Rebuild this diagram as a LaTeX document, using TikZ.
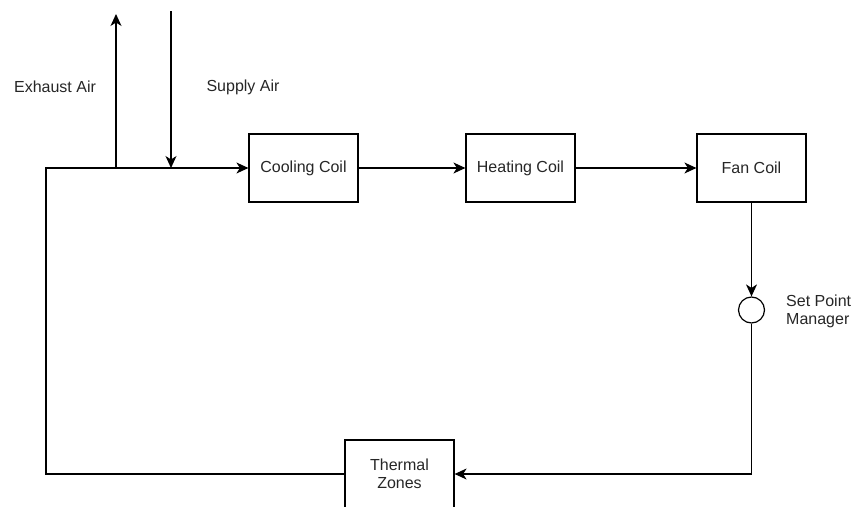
\documentclass[tikz,border=0pt]{standalone}
\usepackage{fontspec}
\setmainfont{Liberation Sans}
\usetikzlibrary{arrows.meta}
\begin{document}
\begin{tikzpicture}[x=1pt,y=-1pt,
  box/.style={draw=black,line width=1.2pt,minimum width=109pt,minimum height=68pt,inner sep=0pt,font=\fontsize{16}{18}\selectfont,text=black!85},
  lbl/.style={font=\fontsize{16}{18}\selectfont,text=black!85,inner sep=0pt},
  wire/.style={line width=1.2pt},
  arr/.style={wire,-{Stealth[length=12pt,width=11pt,inset=3.5pt]}}]
\useasboundingbox (0,0) rectangle (854,506);
\node[box] (cool) at (303.5,168) {Cooling Coil};
\node[box] (heat) at (520.5,168) {Heating Coil};
\node[box] (fan) at (751.5,168) {Fan Coil};
\node[draw=black,line width=1.2pt,circle,minimum size=26pt,inner sep=0pt] (spm) at (751.5,310) {};
\node[box,minimum height=68pt,align=center] (tz) at (399.5,474) {Thermal\\Zones};
\node[lbl,anchor=west,align=left] (spml) at (786,311) {Set Point\\Manager};
\node[lbl] (exl) at (55,87) {Exhaust Air};
\node[lbl] (sul) at (243,87) {Supply Air};
\coordinate (bl) at (46,474);
\coordinate (tl) at (46,168);
\coordinate (exb) at (116,168);
\coordinate (ext) at (116,14);
\coordinate (sut) at (171,11);
\coordinate (sub) at (171,168);
\coordinate (br) at (751.5,474);
\draw[arr] (tz.west) -- (bl) -- (tl) -- (cool.west);
\draw[arr] (exb) -- (ext);
\draw[arr] (sut) -- (sub);
\draw[arr] (cool.east) -- (heat.west);
\draw[arr] (heat.east) -- (fan.west);
\draw[arr] (fan.south) -- (spm.north);
\draw[arr] (spm.south) -- (br) -- (tz.east);
\end{tikzpicture}
\end{document}
